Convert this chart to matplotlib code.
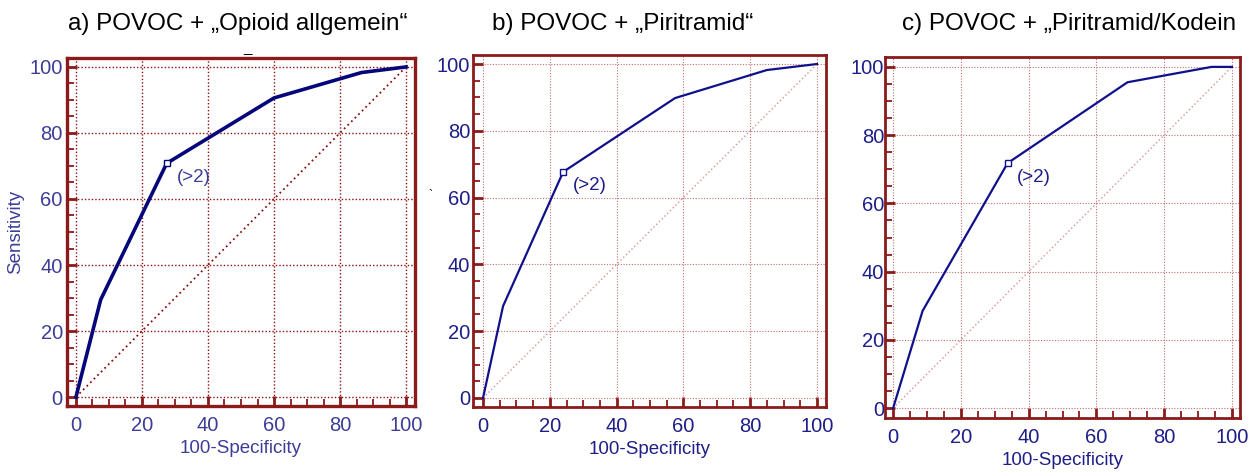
import numpy as np
import matplotlib
matplotlib.use('Agg')
import matplotlib.pyplot as plt
from matplotlib.ticker import MultipleLocator

plt.rcParams['font.family'] = ['Liberation Sans', 'DejaVu Sans']

# ROC curve points (100-Specificity, Sensitivity)
a_x = [0, 7.5, 27.5, 60, 86.5, 100]
a_y = [0, 29.5, 70.8, 90.6, 98.3, 100]
b_x = [0, 6, 24, 57.5, 85, 100]
b_y = [0, 27.5, 67.7, 89.8, 98.2, 100]
c_x = [0, 8.7, 33.8, 69.2, 94, 100]
c_y = [0, 28.5, 71.8, 95.5, 100, 100]

# criterion point (>2)
a_cut = (27.5, 70.8)
b_cut = (24, 67.7)
c_cut = (33.8, 71.8)

titles = ['a) POVOC + \u201eOpioid allgemein\u201c',
          'b) POVOC + \u201ePiritramid\u201c',
          'c) POVOC + \u201ePiritramid/Kodein']
cut_label = '(>2)'
xlabel = '100-Specificity'
ylabel = 'Sensitivity'

W, H = 1256, 473
fig = plt.figure(figsize=(W / 100, H / 100), dpi=100)

def px(l, t, r, b):
    return [l / W, 1 - b / H, (r - l) / W, (b - t) / H]

panels = [
    dict(rect=px(67, 58, 415, 406), x=a_x, y=a_y, cut=a_cut,
         xlim=(-2.7, 102.7), ylim=(-2.7, 102.7), lw=2.6, frame_lw=2.4,
         grid='#8b1010', diag='#8b1010', line='#06067a', txt='#3d3d98',
         ypad=3, title_x=238),
    dict(rect=px(473, 55, 826, 407), x=b_x, y=b_y, cut=b_cut,
         xlim=(-3.0, 102.7), ylim=(-2.7, 102.7), lw=1.6, frame_lw=2.0,
         grid='#c87070', diag='#d89090', line='#10108c', txt='#1e1e88',
         ypad=2, title_x=623),
    dict(rect=px(885, 57, 1240, 418), x=c_x, y=c_y, cut=c_cut,
         xlim=(-2.4, 102.4), ylim=(-2.9, 102.9), lw=1.6, frame_lw=2.0,
         grid='#c87070', diag='#d89090', line='#10108c', txt='#1e1e88',
         ypad=0.5, title_x=1069),
]

frame_col = '#8b1a1a'

for i, p in enumerate(panels):
    ax = fig.add_axes(p['rect'])
    ax.set_xlim(*p['xlim'])
    ax.set_ylim(*p['ylim'])
    for s in ax.spines.values():
        s.set_color(frame_col)
        s.set_linewidth(p['frame_lw'])
    ax.xaxis.set_major_locator(MultipleLocator(20))
    ax.yaxis.set_major_locator(MultipleLocator(20))
    ax.xaxis.set_minor_locator(MultipleLocator(5))
    ax.yaxis.set_minor_locator(MultipleLocator(5))
    ax.tick_params(which='major', direction='in', length=7, width=2,
                   color=frame_col, labelcolor=p['txt'], labelsize=14.5)
    ax.tick_params(which='minor', direction='in', length=5, width=1.3,
                   color=frame_col)
    ax.tick_params(axis='x', which='major', pad=7)
    ax.tick_params(axis='y', which='major', pad=p['ypad'])
    ax.grid(True, which='major', linestyle=(0, (1, 1.5)), color=p['grid'],
            linewidth=1.0 if i == 0 else 0.8)
    ax.set_axisbelow(True)

    ax.plot([0, 100], [0, 100], linestyle=(0, (1, 1.8)), color=p['diag'],
            linewidth=1.3 if i == 0 else 1.0)
    ax.plot(p['x'], p['y'], color=p['line'], linewidth=p['lw'],
            solid_joinstyle='round')
    ax.plot([p['cut'][0]], [p['cut'][1]], marker='s', markersize=4,
            markerfacecolor='white', markeredgecolor=p['line'],
            markeredgewidth=1)
    ax.annotate(cut_label, p['cut'], xytext=(7, -10), textcoords='offset points',
                ha='left', va='center', fontsize=13.5, color=p['txt'])

    ax.set_xlabel(xlabel, fontsize=13.5, color=p['txt'], labelpad=4)
    if i == 0:
        ax.set_ylabel(ylabel, fontsize=13.5, color=p['txt'], labelpad=4)

    fig.text(p['title_x'] / W, 1 - 24 / H, titles[i], ha='center',
             va='center', fontsize=17.5, color='black')

# small stray marks from the original scan
fig.text(247 / W, 1 - 48 / H, '_', ha='center', va='center', fontsize=11, color='black')
fig.text(430 / W, 1 - 196 / H, '`', ha='center', va='center', fontsize=9, color='black')

fig.savefig('out.png', dpi=100)
